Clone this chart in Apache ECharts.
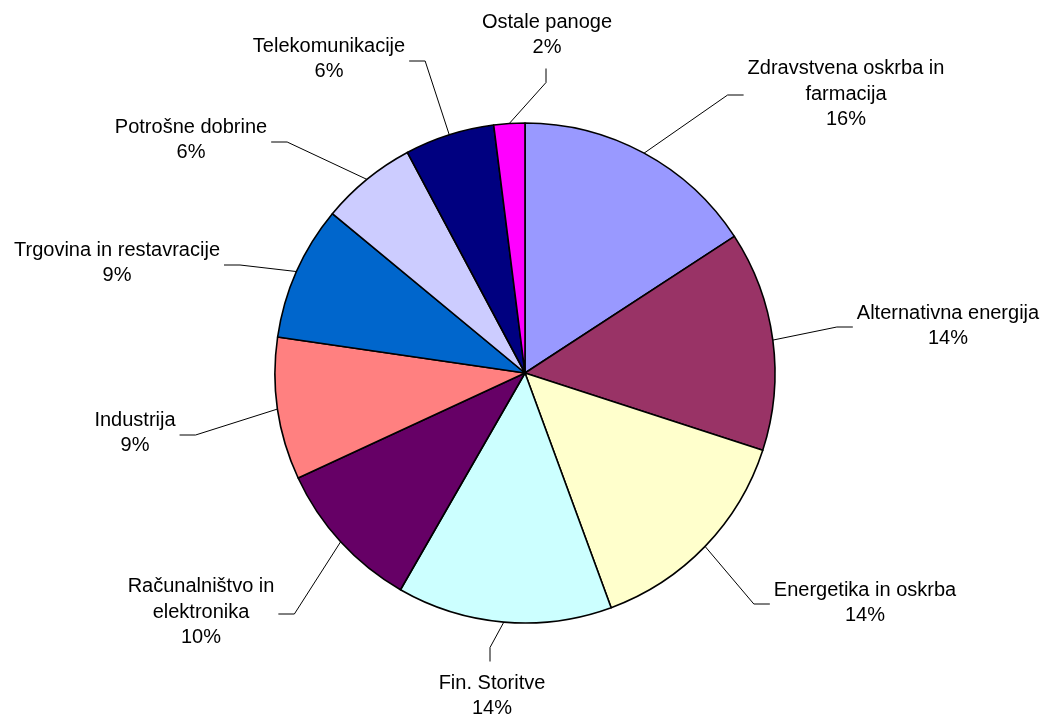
<!DOCTYPE html>
<html>
<head>
<meta charset="utf-8">
<script src="https://cdn.jsdelivr.net/npm/echarts@6/dist/echarts.min.js"></script>
<style>
html,body{margin:0;padding:0;background:#fff;}
#chart{width:1045px;height:715px;}
</style>
</head>
<body>
<div id="chart"></div>
<script>
// ---- data ----
const categories = [
  "Zdravstvena oskrba in\nfarmacija",
  "Alternativna energija",
  "Energetika in oskrba",
  "Fin. Storitve",
  "Računalništvo in\nelektronika",
  "Industrija",
  "Trgovina in restavracije",
  "Potrošne dobrine",
  "Telekomunikacije",
  "Ostale panoge"
];
const shares = [15.8, 14.2, 14.4, 13.9, 9.8, 9.2, 8.7, 6.2, 5.8, 2.0];
const colors = ["#9999FF", "#993366", "#FFFFCC", "#CCFFFF", "#660066",
                "#FF8080", "#0066CC", "#CCCCFF", "#000080", "#FF00FF"];

// ---- label placement (layout only) ----
// [centerX, centerY, side where the leader line attaches]
const labelPlace = [
  [846, 94, "left"],
  [948, 326, "left"],
  [865, 603, "left"],
  [492, 696, "top"],
  [201, 612, "right"],
  [135, 433, "right"],
  [117, 263, "right"],
  [191, 140, "right"],
  [329, 59, "right"],
  [547, 35, "bottom"]
];

const chart = echarts.init(document.getElementById('chart'), null, {renderer: 'canvas'});

chart.setOption({
  animation: false,
  backgroundColor: '#ffffff',
  series: [{
    type: 'pie',
    center: [525, 373],
    radius: 250,
    startAngle: 90,
    clockwise: true,
    avoidLabelOverlap: false,
    data: categories.map((c, i) => ({
      name: c, value: shares[i],
      itemStyle: {color: colors[i]}
    })),
    itemStyle: {borderColor: '#000', borderWidth: 1.6},
    emphasis: {disabled: true},
    label: {
      show: true,
      position: 'outside',
      color: '#000',
      fontFamily: '"Liberation Sans", Arial, sans-serif',
      fontSize: 20,
      lineHeight: 25.5,
      align: 'center',
      formatter: p => p.name + '\n' + Math.round(p.percent) + '%'
    },
    labelLine: {
      show: true,
      length: 20,
      length2: 16,
      lineStyle: {color: '#000', width: 1}
    },
    labelLayout: function (params) {
      const lp = labelPlace[params.dataIndex];
      const cx = lp[0], cy = lp[1], side = lp[2];
      const w = params.labelRect.width, h = params.labelRect.height;
      const start = params.labelLinePoints ? params.labelLinePoints[0] : [525, 373];
      let end, elbow;
      if (side === 'left') {
        end = [cx - w / 2 - 4, cy + 1];
        elbow = [end[0] - 16, end[1]];
      } else if (side === 'right') {
        end = [cx + w / 2 + 4, cy + 2];
        elbow = [end[0] + 16, end[1]];
      } else if (side === 'top') {
        end = [cx - 2, cy - h / 2 - 9];
        elbow = [end[0], end[1] - 14];
      } else {
        end = [cx - 1, cy + h / 2 + 8];
        elbow = [end[0], end[1] + 14];
      }
      return {
        x: cx, y: cy,
        align: 'center',
        verticalAlign: 'middle',
        labelLinePoints: [start, elbow, end]
      };
    }
  }]
});
</script>
</body>
</html>
